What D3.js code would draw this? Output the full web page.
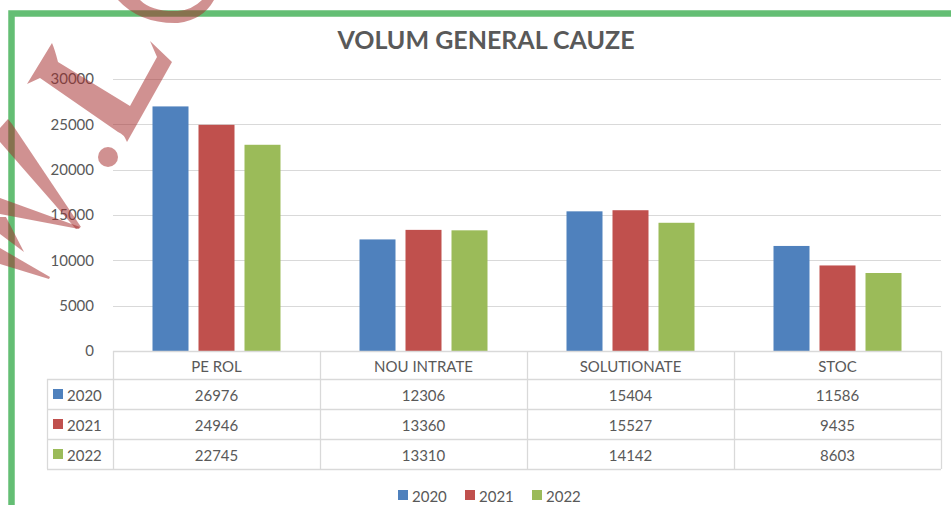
<!DOCTYPE html>
<html>
<head>
<meta charset="utf-8">
<script src="https://cdn.jsdelivr.net/npm/d3@7"></script>
<style>
  html, body { margin: 0; padding: 0; background: #fff; }
  svg { display: block; font-family: Lato, "Open Sans", sans-serif; }
</style>
</head>
<body>
<svg id="chart" width="951" height="505"></svg>
<script>
// ---- data ----
const categories = ["PE ROL", "NOU INTRATE", "SOLUTIONATE", "STOC"];
const years = ["2020", "2021", "2022"];
const values2020 = [26976, 12306, 15404, 11586];
const values2021 = [24946, 13360, 15527, 9435];
const values2022 = [22745, 13310, 14142, 8603];
const yTicks = [0, 5000, 10000, 15000, 20000, 25000, 30000];
const colors = ["#4f81bd", "#c0504d", "#9bbb59"];
const title = "VOLUM GENERAL CAUZE";

const seriesValues = [values2020, values2021, values2022];
const series = years.map((y, i) => ({ year: y, color: colors[i], values: seriesValues[i] }));

const svg = d3.select("#chart");
const textColor = "#595959";
const lineColor = "#d9d9d9";

// layout
const plotLeft = 113, plotRight = 941, plotTop = 79, plotBottom = 351;
const tableLeft = 47, tableBottom = 469, headerBottom = 379;

const x0 = d3.scaleBand().domain(categories).range([plotLeft, plotRight]);
const groupW = 128;
const x1 = d3.scaleBand().domain(years)
  .range([(x0.bandwidth() - groupW) / 2, (x0.bandwidth() + groupW) / 2])
  .paddingInner(10 / 46);
const y = d3.scaleLinear().domain([0, 30000]).range([plotBottom, plotTop]);
const rowY = d3.scaleBand().domain(years).range([headerBottom, tableBottom]);

// title
svg.append("text")
  .attr("x", 486).attr("y", 39)
  .attr("text-anchor", "middle").attr("dominant-baseline", "central")
  .attr("font-size", 25).attr("font-weight", 700)
  .attr("fill", textColor)
  .text(title);

// gridlines
svg.append("g").selectAll("line")
  .data(yTicks.filter(t => t > 0))
  .join("line")
  .attr("x1", plotLeft).attr("x2", plotRight)
  .attr("y1", d => Math.round(y(d)) + 0.5).attr("y2", d => Math.round(y(d)) + 0.5)
  .attr("stroke", lineColor).attr("stroke-width", 1.2);

// y axis labels
const yAxis = d3.axisLeft(y).tickValues(yTicks).tickSize(0).tickPadding(0).tickFormat(d3.format("d"));
const yG = svg.append("g").attr("transform", "translate(94,0)").call(yAxis);
yG.select(".domain").remove();
yG.selectAll("text").attr("fill", textColor).attr("font-size", 15)
  .attr("font-family", "Lato, 'Open Sans', sans-serif");

// bars
const groups = svg.append("g").selectAll("g")
  .data(categories)
  .join("g")
  .attr("transform", d => `translate(${x0(d)},0)`);
groups.selectAll("rect")
  .data((c, ci) => series.map(s => ({ year: s.year, color: s.color, v: s.values[ci] })))
  .join("rect")
  .attr("x", d => x1(d.year))
  .attr("width", x1.bandwidth())
  .attr("y", d => y(d.v))
  .attr("height", d => y(0) - y(d.v))
  .attr("fill", d => d.color);

// data table
const tg = svg.append("g").attr("stroke", lineColor).attr("stroke-width", 1.3);
tg.append("line").attr("x1", plotLeft).attr("x2", plotRight).attr("y1", plotBottom + 0.5).attr("y2", plotBottom + 0.5);
[headerBottom, ...years.map(yr => rowY(yr) + rowY.bandwidth())].forEach(yy => {
  tg.append("line").attr("x1", tableLeft).attr("x2", plotRight).attr("y1", yy + 0.5).attr("y2", yy + 0.5);
});
tg.append("line").attr("x1", tableLeft + 0.5).attr("x2", tableLeft + 0.5).attr("y1", headerBottom).attr("y2", tableBottom);
[...categories.map(c => x0(c)), plotRight].forEach(xx => {
  tg.append("line").attr("x1", xx + 0.5).attr("x2", xx + 0.5).attr("y1", plotBottom).attr("y2", tableBottom);
});

// header labels
svg.append("g").selectAll("text")
  .data(categories)
  .join("text")
  .attr("x", d => x0(d) + x0.bandwidth() / 2)
  .attr("y", (plotBottom + headerBottom) / 2 + 1)
  .attr("text-anchor", "middle").attr("dominant-baseline", "central")
  .attr("font-size", 15).attr("fill", textColor)
  .text(d => d);

// row keys
const rows = svg.append("g").selectAll("g")
  .data(series)
  .join("g")
  .attr("transform", d => `translate(0,${rowY(d.year) + rowY.bandwidth() / 2})`);
rows.append("rect").attr("x", 53).attr("y", -5).attr("width", 10).attr("height", 10).attr("fill", d => d.color);
rows.append("text").attr("x", 67).attr("y", 1).attr("dominant-baseline", "central")
  .attr("font-size", 15).attr("fill", textColor).text(d => d.year);
rows.selectAll("text.val")
  .data(d => d.values.map((v, i) => ({ v, c: categories[i] })))
  .join("text").attr("class", "val")
  .attr("x", d => x0(d.c) + x0.bandwidth() / 2).attr("y", 1)
  .attr("text-anchor", "middle").attr("dominant-baseline", "central")
  .attr("font-size", 15).attr("fill", textColor)
  .text(d => d.v);

// bottom legend
const leg = svg.append("g").selectAll("g")
  .data(series)
  .join("g")
  .attr("transform", (d, i) => `translate(${398 + i * 67},495)`);
leg.append("rect").attr("x", 0).attr("y", -5).attr("width", 10).attr("height", 10).attr("fill", d => d.color);
leg.append("text").attr("x", 14).attr("y", 1).attr("dominant-baseline", "central")
  .attr("font-size", 15).attr("fill", textColor).text(d => d.year);

// green frame
svg.append("path")
  .attr("d", "M11.5,510 L11.5,13.5 L960,13.5")
  .attr("fill", "none").attr("stroke", "#64be74").attr("stroke-width", 6.5);

// watermark (decoration, semi-transparent)
const wm = svg.append("g").attr("fill", "rgb(165,45,45)").attr("fill-opacity", 0.52);
const wmShapes = [
  "M0,128 L8,119 L12,124 L81,227 L76,229 L0,142 Z",
  "M0,198 L80,227 L79,229 L0,214 Z",
  "M0,217 L6,217 L24,252 L0,234 Z",
  "M0,248 L50,277 L49,279 L0,264 Z",
  "M27,84 L52,43 Q55,50 58,62 L130,106 L157,57 L150,41 L172,62 L127,142 Q124,134 118,132 L40,78 Z",
  "M118,0 Q140,24 178,23 Q203,20 214,0 L202,0 Q192,10 178,11 Q152,12 140,0 Z"
];
wm.selectAll("path").data(wmShapes).join("path").attr("d", d => d);
wm.append("circle").attr("cx", 108).attr("cy", 157).attr("r", 10);
</script>
</body>
</html>
